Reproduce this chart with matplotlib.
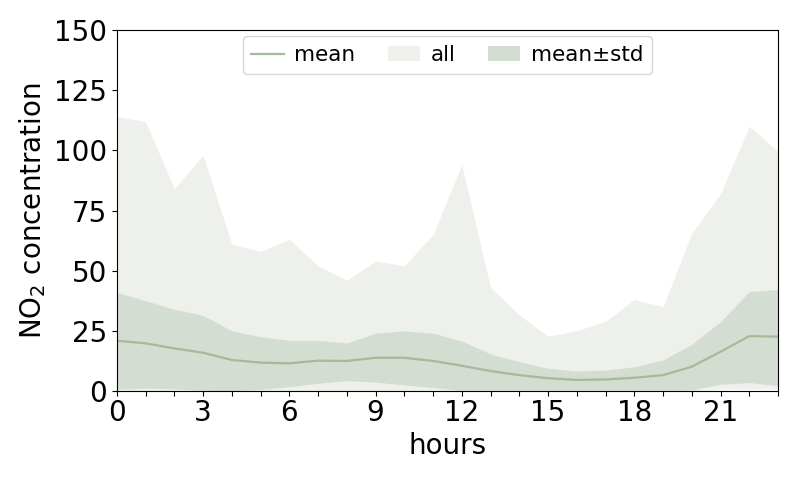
import matplotlib.pyplot as plt
import numpy as np

# hourly NO2 stats
hours = np.arange(24)
mean = [20.9, 19.8, 17.7, 15.9, 12.9, 11.8, 11.5, 12.6, 12.5, 13.8, 13.8, 12.5,
        10.5, 8.3, 6.6, 5.3, 4.6, 4.8, 5.5, 6.6, 10.1, 16.3, 22.8, 22.6]
std_upper = [41, 37.5, 34, 31.4, 25, 22.6, 21, 21, 20, 24, 25, 24,
             20.8, 15.4, 12.2, 9.4, 8.3, 8.7, 10, 12.9, 19.4, 28.8, 41.3, 42.2]
std_lower = [0.7, 1.2, 0.9, 0.3, 0, 0.7, 1.8, 3.2, 4.3, 3.7, 2.5, 1.4,
             0.3, 0.3, 0.3, 0.3, 0.3, 0.3, 0.3, 0.3, 0.5, 2.8, 3.5, 2.2]
all_max = [114, 112, 84, 98, 61, 58, 63, 52, 46, 54, 52, 65,
           94, 43, 31.6, 22.8, 25, 29, 38, 35, 65.5, 82, 110, 99.5]
all_min = [0, 0, 0, 0, 0, 0, 0, 0, 0, 0, 0, 0,
           0, 0, 0, 0, 0, 0, 0, 0, 0, 0.8, 0.8, 0.8]
xtick_labels = [str(h) if h % 3 == 0 else '' for h in hours]

plt.rcParams['font.size'] = 20

fig, ax = plt.subplots(figsize=(8, 4.8), dpi=100)
fig.subplots_adjust(left=0.146, right=0.9725, top=0.9375, bottom=0.1854)

ax.plot(hours, mean, color='#a5ba9b', lw=1.6, label='mean')
ax.fill_between(hours, all_min, all_max, color='#eef0eb', lw=0, label='all')
ax.fill_between(hours, std_lower, std_upper, color='#d4ddd2', lw=0, label='mean±std')

ax.set_xlim(0, 23)
ax.set_ylim(0, 150)
ax.set_xticks(hours)
ax.set_xticklabels(xtick_labels)
ax.set_yticks([0, 25, 50, 75, 100, 125, 150])
ax.tick_params(axis='x', pad=2)

ax.set_xlabel('hours')
ax.set_ylabel('NO$_2$ concentration')

ax.legend(loc='upper center', ncol=3, fontsize=15.5, borderaxespad=0.3,
          handlelength=1.5, handletextpad=0.5, columnspacing=1.5)

fig.savefig('out.png', dpi=100)
